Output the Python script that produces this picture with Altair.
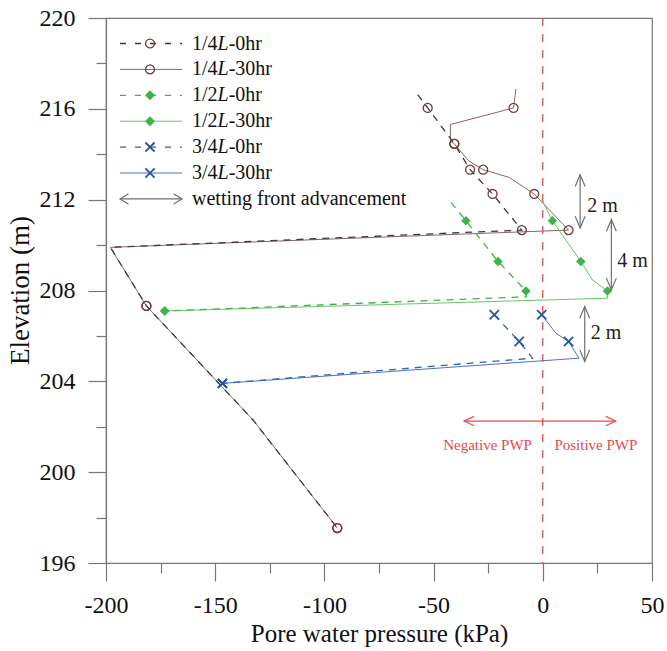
import altair as alt
import pandas as pd

FONT = "Liberation Serif"

# ---------------- data ----------------
# pressure p (kPa), elevation e (m)
# 1/4L-0hr
q14_0_line_p = [-57.3, -52.7, -40.5, -33.3, -23.0, -9.6, -198.0, -181.5, -132.7, -94.1]
q14_0_line_e = [216.63, 216.04, 214.46, 213.32, 212.25, 210.66, 209.90, 207.32, 202.30, 197.54]
q14_0_mark_p = [-52.7, -40.5, -33.3, -23.0, -9.6, -181.5, -94.1]
q14_0_mark_e = [216.04, 214.46, 213.32, 212.25, 210.66, 207.32, 197.54]
# 1/4L-30hr
q14_30_line_p = [-12.3, -13.4, -42.3, -42.3, -40.5, -34.1, -27.3, -15.4, -3.9, 11.8, -198.0, -181.5, -132.7, -94.1]
q14_30_line_e = [216.88, 216.04, 215.31, 214.57, 214.46, 213.72, 213.32, 212.98, 212.25, 210.66, 209.90, 207.32, 202.30, 197.54]
q14_30_mark_p = [-13.4, -40.5, -27.3, -3.9, 11.8, -181.5, -94.1]
q14_30_mark_e = [216.04, 214.46, 213.32, 212.25, 210.66, 207.32, 197.54]
# 1/2L-0hr
q12_0_line_p = [-42.0, -35.2, -20.5, -7.7, -7.5, -173.1]
q12_0_line_e = [211.88, 211.07, 209.28, 207.98, 207.72, 207.10]
q12_0_mark_p = [-35.2, -20.5, -7.7, -173.1]
q12_0_mark_e = [211.07, 209.28, 207.98, 207.10]
# 1/2L-30hr
q12_30_line_p = [-0.4, 4.4, 17.4, 22.7, 29.6, 29.6, -173.1]
q12_30_line_e = [212.00, 211.07, 209.28, 208.47, 207.98, 207.66, 207.10]
q12_30_mark_p = [4.4, 17.4, 29.6, -173.1]
q12_30_mark_e = [211.07, 209.28, 207.98, 207.10]
# 3/4L-0hr
q34_0_line_p = [-22.2, -10.8, -4.7, -146.7]
q34_0_line_e = [206.93, 205.75, 205.02, 203.91]
q34_0_mark_p = [-22.2, -10.8, -146.7]
q34_0_mark_e = [206.93, 205.75, 203.91]
# 3/4L-30hr
q34_30_line_p = [-0.5, 6.0, 11.8, 16.6, -146.7]
q34_30_line_e = [206.93, 206.12, 205.75, 205.02, 203.91]
q34_30_mark_p = [-0.5, 11.8, -146.7]
q34_30_mark_e = [206.93, 205.75, 203.91]

# wetting front advancement arrows
wf_p = [17.1, 31.4, 19.2]
wf_top = [213.10, 211.12, 207.29]
wf_bot = [210.75, 208.03, 204.87]
wf_text = ["2 m", "4 m", "2 m"]
wf_text_p = [20.4, 34.1, 22.0]
wf_text_e = [211.73, 209.31, 206.12]

# PWP sign annotation
pwp_line_p = [0.0]
pwp_arrow_p = [-36.0, 33.4]
pwp_arrow_e = [202.25]
pwp_text = ["Negative PWP", "Positive PWP"]
pwp_text_p = [-25.3, 24.3]
pwp_text_e = [201.19]

x_ticks = list(range(-200, 51, 25))
y_ticks = list(range(196, 221, 2))

# ---------------- styles ----------------
BROWN_M = "#6e3b3b"
DARK = "#3a3a3a"
BROWN_L = "#8c6464"
GREEN_M = "#3eb34a"
GREEN_D = "#45b04b"
GREEN_L = "#6cc468"
BLUE_M = "#2a4fa5"
BLUE_D = "#3560b0"
BLUE_L = "#4a73c4"
RED = "#e8474c"
GRAY = "#707070"
XSHAPE = "M-1,-1L1,1M-1,1L1,-1"

x_scale = alt.Scale(domain=[-200, 50], nice=False, zero=False)
y_scale = alt.Scale(domain=[196, 220], nice=False, zero=False)

axis_common = dict(
    labelFont=FONT, titleFont=FONT, labelFontSize=24,
    labelColor="#111", titleColor="#111", titleFontWeight="normal",
    domainColor="#777", tickColor="#777", domainWidth=1.2, tickWidth=1.2,
    labelFlush=False, grid=False,
)
x_axis = alt.Axis(
    values=x_ticks,
    labelExpr="datum.value % 50 === 0 ? '' + datum.value : ''",
    tickSize={"condition": {"test": "datum.value % 50 === 0", "value": 18}, "value": 10},
    title="Pore water pressure (kPa)", titleFontSize=25,
    titleY=78, titleBaseline="alphabetic", labelPadding=12,
    **axis_common,
)
y_axis = alt.Axis(
    values=y_ticks,
    labelExpr="(datum.value - 196) % 4 === 0 ? '' + datum.value : ''",
    tickSize={"condition": {"test": "(datum.value - 196) % 4 === 0", "value": 18}, "value": 10},
    title="Elevation (m)", titleFontSize=27,
    titleX=-86, titleY=272, titleAngle=270, titleBaseline="middle", labelPadding=13,
    **axis_common,
)
X = alt.X("p:Q", scale=x_scale, axis=x_axis)
Y = alt.Y("e:Q", scale=y_scale, axis=y_axis)

layers = []

# red zero line
layers.append(alt.Chart(pd.DataFrame({"p": pwp_line_p})).mark_rule(
    color=RED, strokeDash=[8, 8], strokeWidth=1.3).encode(x=X))


def line_layer(ps, es, color, width, dash=None):
    df = pd.DataFrame({"p": ps, "e": es, "i": list(range(len(ps)))})
    kw = dict(color=color, strokeWidth=width)
    if dash:
        kw["strokeDash"] = dash
    return alt.Chart(df).mark_line(**kw).encode(x=X, y=Y, order="i:Q")


def mark_layer(ps, es, kind):
    df = pd.DataFrame({"p": ps, "e": es})
    if kind == "circle":
        m = alt.Chart(df).mark_point(shape="circle", filled=False, color=BROWN_M, size=80, strokeWidth=1.3, opacity=1)
    elif kind == "diamond":
        m = alt.Chart(df).mark_point(shape="diamond", filled=True, color=GREEN_M, size=90, opacity=1)
    else:
        m = alt.Chart(df).mark_point(shape=XSHAPE, filled=False, color=BLUE_M, size=85, strokeWidth=1.8, opacity=1)
    return m.encode(x=X, y=Y)


layers += [
    line_layer(q14_30_line_p, q14_30_line_e, BROWN_L, 1.0),
    line_layer(q14_0_line_p, q14_0_line_e, DARK, 1.3, [7, 6]),
    line_layer(q12_30_line_p, q12_30_line_e, GREEN_L, 1.0),
    line_layer(q12_0_line_p, q12_0_line_e, GREEN_D, 1.3, [7, 6]),
    line_layer(q34_30_line_p, q34_30_line_e, BLUE_L, 1.0),
    line_layer(q34_0_line_p, q34_0_line_e, BLUE_D, 1.3, [7, 6]),
    mark_layer(q14_0_mark_p, q14_0_mark_e, "circle"),
    mark_layer(q14_30_mark_p, q14_30_mark_e, "circle"),
    mark_layer(q12_0_mark_p, q12_0_mark_e, "diamond"),
    mark_layer(q12_30_mark_p, q12_30_mark_e, "diamond"),
    mark_layer(q34_0_mark_p, q34_0_mark_e, "x"),
    mark_layer(q34_30_mark_p, q34_30_mark_e, "x"),
]

# wetting front arrows
wf_df = pd.DataFrame({"p": wf_p, "top": wf_top, "bot": wf_bot})
layers.append(alt.Chart(wf_df).mark_rule(color=GRAY, strokeWidth=1.2).encode(
    x=X, y=alt.Y("top:Q", scale=y_scale, axis=y_axis), y2="bot:Q"))
layers.append(alt.Chart(wf_df).mark_point(shape="M-0.85,2L0,0L0.85,2", filled=False, color=GRAY,
                                          size=137, strokeWidth=1.2, opacity=1).encode(
    x=X, y=alt.Y("top:Q", scale=y_scale, axis=y_axis)))
layers.append(alt.Chart(wf_df).mark_point(shape="M-0.85,-2L0,0L0.85,-2", filled=False, color=GRAY,
                                          size=137, strokeWidth=1.2, opacity=1).encode(
    x=X, y=alt.Y("bot:Q", scale=y_scale, axis=y_axis)))
wt_df = pd.DataFrame({"p": wf_text_p, "e": wf_text_e, "t": wf_text})
layers.append(alt.Chart(wt_df).mark_text(align="left", baseline="middle", font=FONT, fontSize=20,
                                         color="#222").encode(x=X, y=Y, text="t:N"))

# PWP arrow
pa_df = pd.DataFrame({"p": [pwp_arrow_p[0]], "p2": [pwp_arrow_p[1]], "e": pwp_arrow_e})
layers.append(alt.Chart(pa_df).mark_rule(color=RED, strokeWidth=1.2).encode(x=X, x2="p2:Q", y=Y))
layers.append(alt.Chart(pd.DataFrame({"p": [pwp_arrow_p[0]], "e": pwp_arrow_e})).mark_point(
    shape="M2,-0.94L0,0L2,0.94", filled=False, color=RED, size=100, strokeWidth=1.2, opacity=1).encode(x=X, y=Y))
layers.append(alt.Chart(pd.DataFrame({"p": [pwp_arrow_p[1]], "e": pwp_arrow_e})).mark_point(
    shape="M-2,-0.94L0,0L-2,0.94", filled=False, color=RED, size=100, strokeWidth=1.2, opacity=1).encode(x=X, y=Y))
pt_df = pd.DataFrame({"p": pwp_text_p, "e": pwp_text_e * 2, "t": pwp_text})
layers.append(alt.Chart(pt_df).mark_text(align="center", baseline="middle", font=FONT, fontSize=15,
                                         color=RED).encode(x=X, y=Y, text="t:N"))

# ---------------- manual legend (pixel positions in plot area) ----------------
LX1, LX2, LMX, LTX = 14, 76, 44, 86
LY0, LDY = 25.5, 25.9
FS = 20
W_FRAC = 1.278 * FS
W_L = 0.556 * FS

legend_rows = [
    ("1/4", "-0hr", DARK, [6, 9], 1.3, "circle"),
    ("1/4", "-30hr", BROWN_L, None, 1.0, "circle"),
    ("1/2", "-0hr", GREEN_D, [6, 9], 1.3, "diamond"),
    ("1/2", "-30hr", GREEN_L, None, 1.0, "diamond"),
    ("3/4", "-0hr", BLUE_D, [6, 9], 1.3, "x"),
    ("3/4", "-30hr", BLUE_L, None, 1.0, "x"),
]


def one():
    return alt.Data(values=[{"a": 1}])


for k, (frac, suffix, lc, dash, lw, mk) in enumerate(legend_rows):
    yy = LY0 + LDY * k
    kw = dict(color=lc, strokeWidth=lw)
    if dash:
        kw["strokeDash"] = dash
    layers.append(alt.Chart(one()).mark_rule(**kw).encode(
        x=alt.value(LX1), x2=alt.value(LX2), y=alt.value(yy)))
    if mk == "circle":
        pm = alt.Chart(one()).mark_point(shape="circle", filled=False, color=BROWN_M, size=80, strokeWidth=1.3, opacity=1)
    elif mk == "diamond":
        pm = alt.Chart(one()).mark_point(shape="diamond", filled=True, color=GREEN_M, size=100, opacity=1)
    else:
        pm = alt.Chart(one()).mark_point(shape=XSHAPE, filled=False, color=BLUE_M, size=85, strokeWidth=1.8, opacity=1)
    layers.append(pm.encode(x=alt.value(LMX), y=alt.value(yy)))
    layers.append(alt.Chart(one()).mark_text(align="left", baseline="middle", font=FONT, fontSize=FS,
                                             color="#111").encode(
        x=alt.value(LTX), y=alt.value(yy), text=alt.value(frac)))
    layers.append(alt.Chart(one()).mark_text(align="left", baseline="middle", font=FONT, fontSize=FS,
                                             fontStyle="italic", color="#111").encode(
        x=alt.value(LTX + W_FRAC), y=alt.value(yy), text=alt.value("L")))
    layers.append(alt.Chart(one()).mark_text(align="left", baseline="middle", font=FONT, fontSize=FS,
                                             color="#111").encode(
        x=alt.value(LTX + W_FRAC + W_L), y=alt.value(yy), text=alt.value(suffix)))

# legend arrow row
ya = LY0 + LDY * 6
layers.append(alt.Chart(one()).mark_rule(color=GRAY, strokeWidth=1.2).encode(
    x=alt.value(LX1), x2=alt.value(LX2), y=alt.value(ya)))
layers.append(alt.Chart(one()).mark_point(shape="M2,-1.2L0,0L2,1.2", filled=False, color=GRAY, size=71,
                                          strokeWidth=1.2, opacity=1).encode(x=alt.value(LX1), y=alt.value(ya)))
layers.append(alt.Chart(one()).mark_point(shape="M-2,-1.2L0,0L-2,1.2", filled=False, color=GRAY, size=71,
                                          strokeWidth=1.2, opacity=1).encode(x=alt.value(LX2), y=alt.value(ya)))
layers.append(alt.Chart(one()).mark_text(align="left", baseline="middle", font=FONT, fontSize=FS,
                                         color="#111").encode(
    x=alt.value(LTX), y=alt.value(ya), text=alt.value("wetting front advancement")))

chart = alt.layer(*layers).properties(
    width=546, height=545,
    padding={"left": 106, "top": 18, "right": 15, "bottom": 88},
    autosize=alt.AutoSizeParams(type="none"),
).configure_view(stroke="#777", strokeWidth=1.2)

chart.save("out.html", embed_options={"renderer": "svg", "actions": False})
